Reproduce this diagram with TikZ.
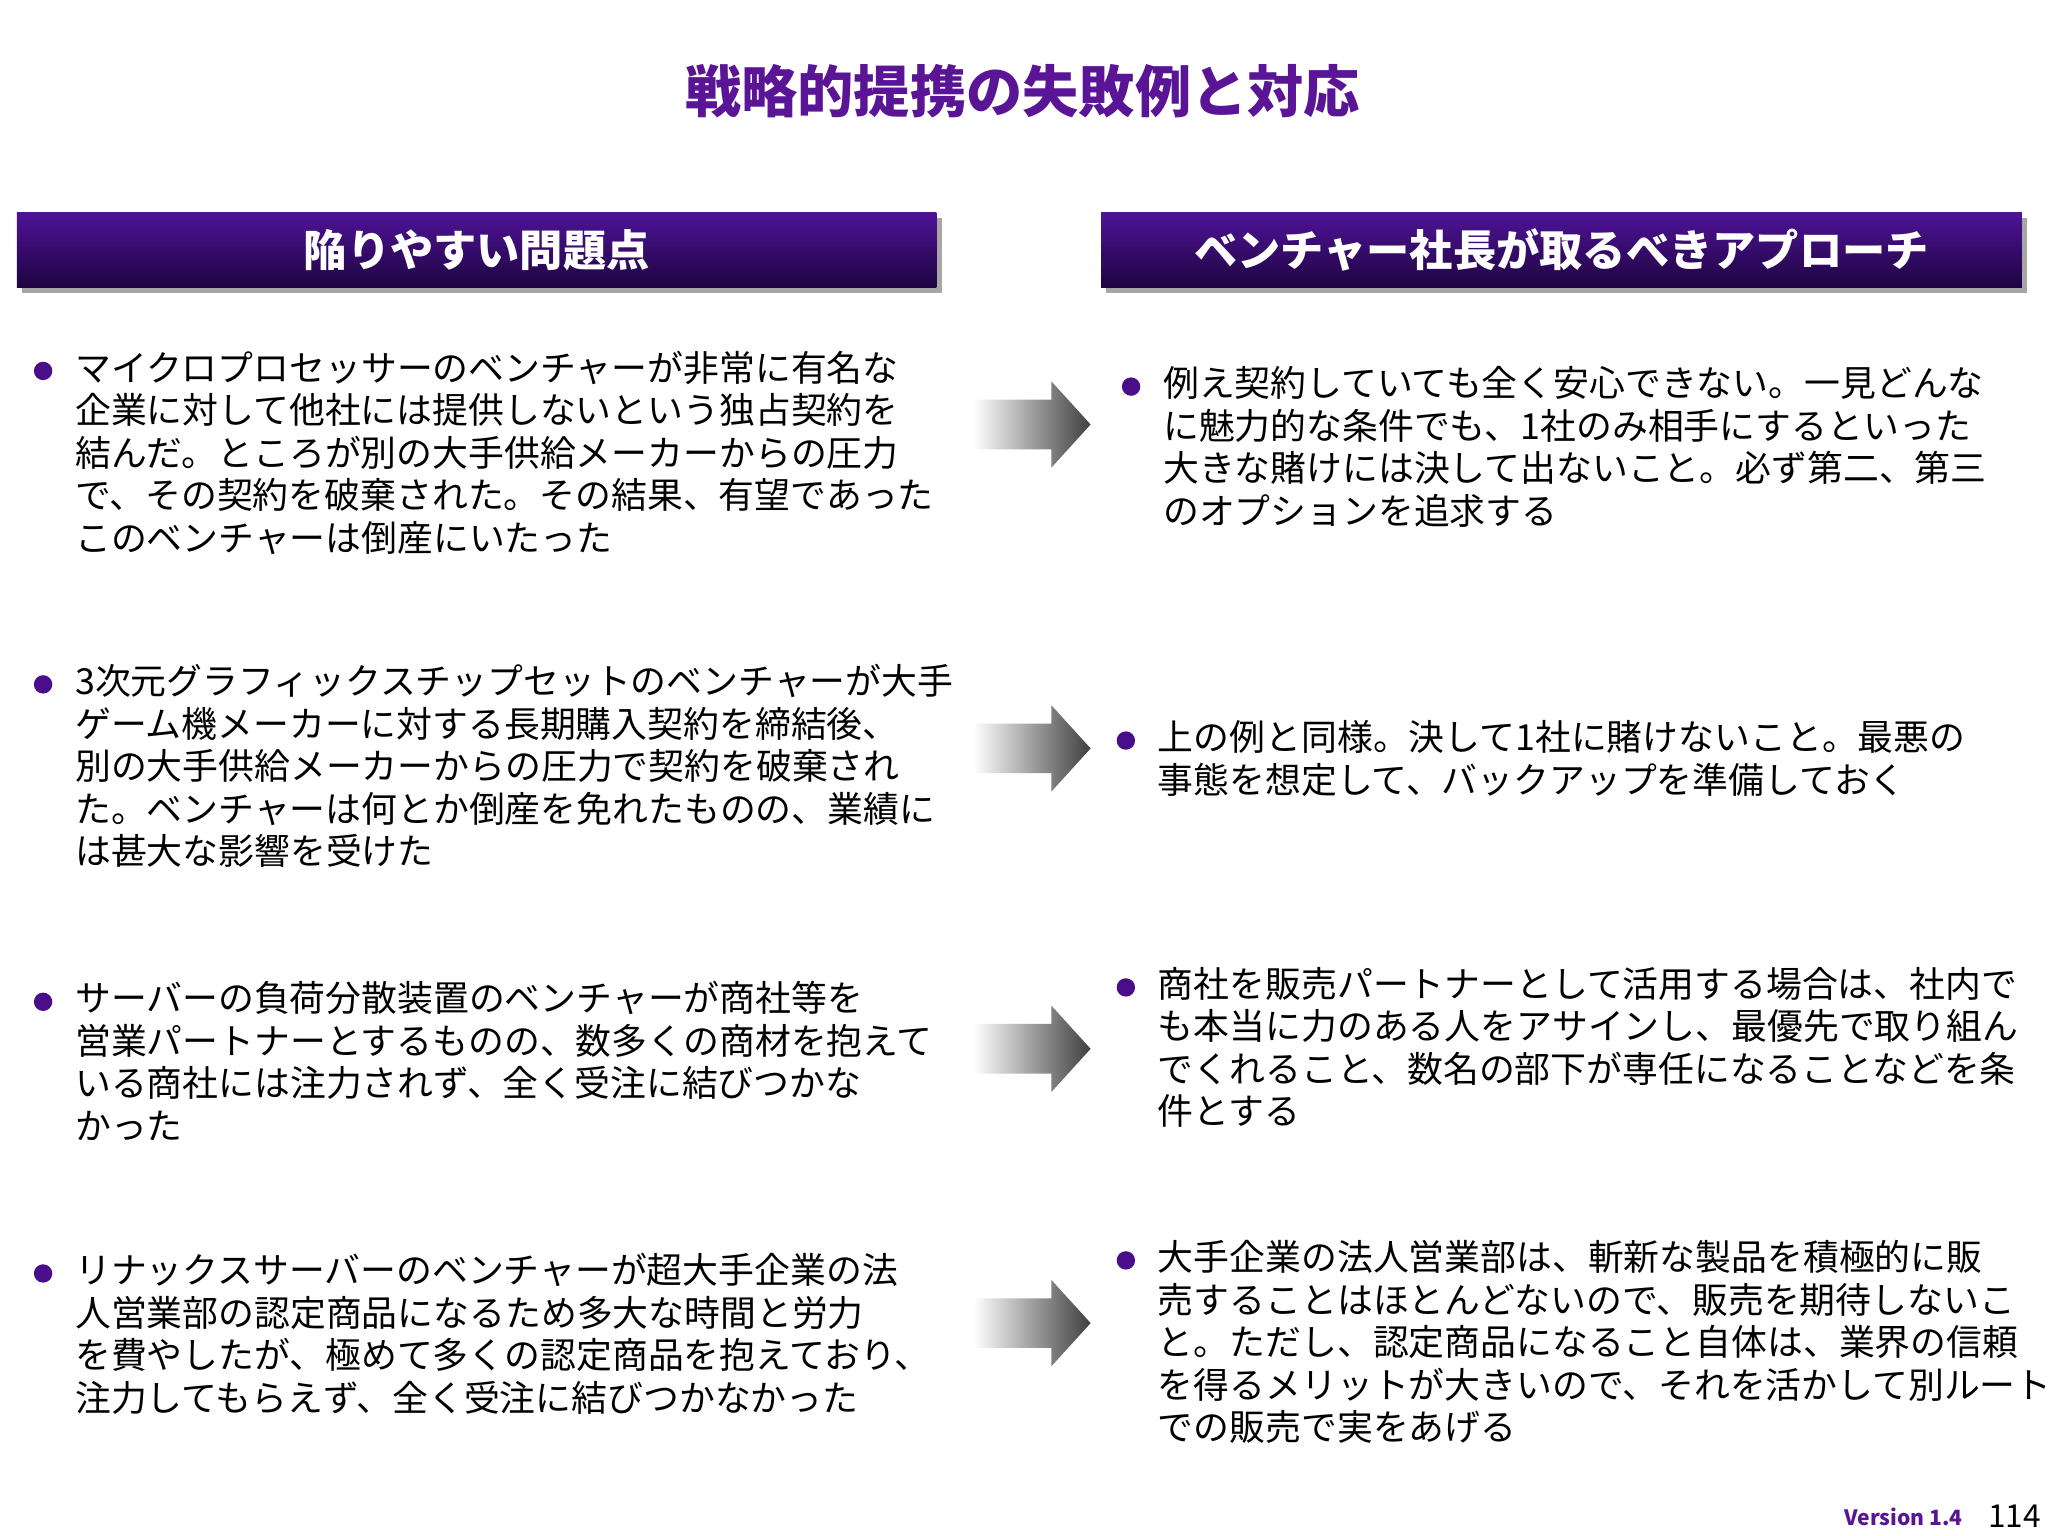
\documentclass[tikz,border=0pt]{standalone}
\usepackage{fontspec}
\setmainfont{Noto Sans CJK JP}
\usetikzlibrary{shadings}
\definecolor{ttl}{HTML}{5A1496}
\definecolor{hdtop}{HTML}{4E1396}
\definecolor{hdbot}{HTML}{1E0440}
\definecolor{bul}{HTML}{4A0E8A}
\tikzset{
 hdrtext/.style={text=white, font=\fontsize{12.3}{14}\selectfont\bfseries, inner sep=0},
 hdrbox/.style={top color=hdtop, bottom color=hdbot, draw=none},
 body/.style={anchor=north west, align=left, inner sep=0, font=\fontsize{10.2}{12.1}\selectfont},
 arr/.style={left color=white, right color=black!75, draw=none}
}
\begin{document}
\begin{tikzpicture}[x=0.013061cm,y=-0.013061cm]
\useasboundingbox (0,0) rectangle (1568,1176);
\node (title) at (783,70) {\fontsize{16}{18}\selectfont\bfseries\color{ttl}戦略的提携の失敗例と対応};
% headers
\fill[black!35] (17,167) rectangle (721,224);
\shade[hdrbox] (13,163) rectangle (717,220);
\node[hdrtext] (hl) at (365,191.5) {陥りやすい問題点};
\fill[black!35] (847,167) rectangle (1552,224);
\shade[hdrbox] (843,163) rectangle (1548,220);
\node[hdrtext] (hr) at (1195.5,191.5) {ベンチャー社長が取るべきアプローチ};
% bullets
\foreach \bx/\by in {33/284,33/524,33/767,33/975,866/296,862/567,862/756,862/965}
 \fill[bul] (\bx,\by) circle[radius=0.092cm];
% left items
\node[body] (l1) at (57,268) {マイクロプロセッサーのベンチャーが非常に有名な\\企業に対して他社には提供しないという独占契約を\\結んだ。ところが別の大手供給メーカーからの圧力\\で、その契約を破棄された。その結果、有望であった\\このベンチャーは倒産にいたった};
\node[body] (l2) at (57,508) {3次元グラフィックスチップセットのベンチャーが大手\\ゲーム機メーカーに対する長期購入契約を締結後、\\別の大手供給メーカーからの圧力で契約を破棄され\\た。ベンチャーは何とか倒産を免れたものの、業績に\\は甚大な影響を受けた};
\node[body] (l3) at (57,751) {サーバーの負荷分散装置のベンチャーが商社等を\\営業パートナーとするものの、数多くの商材を抱えて\\いる商社には注力されず、全く受注に結びつかな\\かった};
\node[body] (l4) at (57,959) {リナックスサーバーのベンチャーが超大手企業の法\\人営業部の認定商品になるため多大な時間と労力\\を費やしたが、極めて多くの認定商品を抱えており、\\注力してもらえず、全く受注に結びつかなかった};
% right items
\node[body] (r1) at (890,280) {例え契約していても全く安心できない。一見どんな\\に魅力的な条件でも、1社のみ相手にするといった\\大きな賭けには決して出ないこと。必ず第二、第三\\のオプションを追求する};
\node[body] (r2) at (886,551) {上の例と同様。決して1社に賭けないこと。最悪の\\事態を想定して、バックアップを準備しておく};
\node[body] (r3) at (886,740) {商社を販売パートナーとして活用する場合は、社内で\\も本当に力のある人をアサインし、最優先で取り組ん\\でくれること、数名の部下が専任になることなどを条\\件とする};
\node[body] (r4) at (886,949) {大手企業の法人営業部は、斬新な製品を積極的に販\\売することはほとんどないので、販売を期待しないこ\\と。ただし、認定商品になること自体は、業界の信頼\\を得るメリットが大きいので、それを活かして別ルート\\での販売で実をあげる};
% arrows
\foreach \n/\c in {a1/325,a2/573,a3/803,a4/1013}{
 \shade[arr] (745,\c-19) -- (805,\c-19) -- (805,\c-33) -- (835,\c) -- (805,\c+33) -- (805,\c+19) -- (745,\c+19) -- cycle;
 \coordinate (\n) at (835,\c);
}
\node[anchor=east, font=\fontsize{6}{7}\selectfont\bfseries, text=ttl, inner sep=0] (ver) at (1503,1161) {Version 1.4};
\node[anchor=east, font=\fontsize{9}{10}\selectfont, inner sep=0] (pg) at (1563,1161) {114};
\end{tikzpicture}
\end{document}
